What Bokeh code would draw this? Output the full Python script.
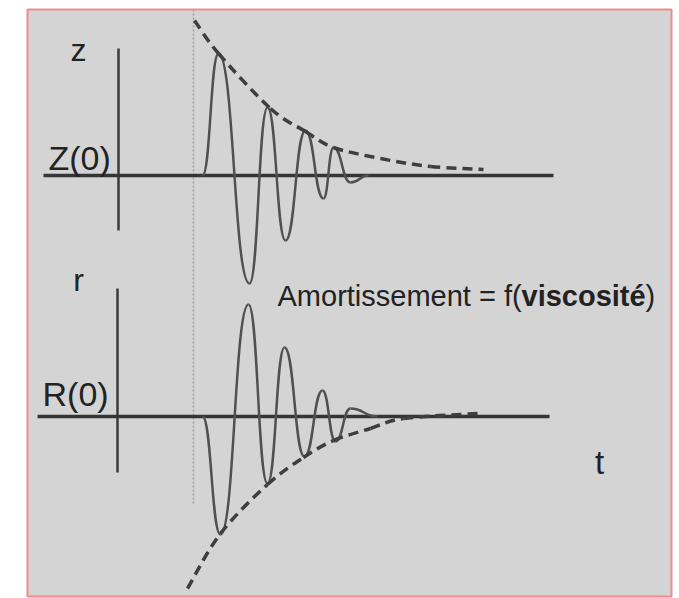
from bokeh.plotting import figure
from bokeh.models import Range1d
from bokeh.core.properties import value
from bokeh.embed import file_html
from bokeh.resources import INLINE

# ---- data (arbitrary units; t = 0 at the dotted line) ----
T_MIN, T_MAX = -16.6, 47.8
Y_MIN, Y_MAX = 0.0, 58.7
Z0_LEVEL = 42.1          # level of Z(0)
R0_LEVEL = 18.0          # level of R(0)

# extrema of the oscillations (relative to Z(0) / R(0))
z_t   = [0.9, 2.5, 5.6, 7.4, 9.2, 11.2, 13.0, 14.0, 15.7, 17.5]
z_val = [0.0, 12.2, -10.8, 6.8, -6.5, 4.5, -2.3, 2.8, -0.7, 0.0]
r_t   = [0.9, 2.7, 5.5, 7.4, 9.1, 11.1, 12.9, 14.2, 15.7, 18.4]
r_val = [0.0, -11.8, 11.2, -6.7, 6.9, -4.0, 2.6, -2.5, 0.8, 0.0]

# damping envelopes
zenv_t   = [0.1, 2.5, 7.7, 11.2, 14.0, 18.7, 23.7, 29.0]
zenv_val = [15.5, 12.2, 6.7, 4.4, 2.8, 1.7, 0.9, 0.6]
renv_t   = [-0.6, 2.7, 7.4, 11.0, 14.0, 17.7, 21.0, 28.5]
renv_val = [-17.2, -11.7, -6.8, -4.1, -2.4, -1.2, -0.2, 0.3]

# axes of the sketch
Z_AXIS_T, Z_AXIS_Y = -7.5, (36.6, 54.8)
R_AXIS_T, R_AXIS_Y = -7.6, (12.4, 30.8)
Z0_SPAN = (-15.0, 36.0)
R0_SPAN = (-15.6, 35.6)
DOT_Y = (9.3, 60.0)

FONT = value("Liberation Sans")
INK = "#222222"

p = figure(width=679, height=598, output_backend="svg", toolbar_location=None,
           x_range=Range1d(T_MIN, T_MAX), y_range=Range1d(Y_MIN, Y_MAX),
           x_axis_location=None, y_axis_location=None,
           min_border_left=27, min_border_right=8, min_border_top=9, min_border_bottom=2)
p.grid.visible = False
p.background_fill_color = "#d4d4d4"
p.border_fill_color = "white"
p.outline_line_color = "#f28c8c"
p.outline_line_width = 2


def tx(px):
    return (px - 193) / 10.0


def ty(py):
    return (596 - py) / 10.0


def osc_bezier(ts, vs, base, k=0.5):
    x0, y0, x1, y1, cx0, cy0, cx1, cy1 = [], [], [], [], [], [], [], []
    for i in range(len(ts) - 1):
        a, b = ts[i], ts[i + 1]
        ya, yb = vs[i] + base, vs[i + 1] + base
        d = b - a
        x0.append(a); y0.append(ya); x1.append(b); y1.append(yb)
        cx0.append(a + k * d); cy0.append(ya)
        cx1.append(b - k * d); cy1.append(yb)
    return dict(x0=x0, y0=y0, x1=x1, y1=y1, cx0=cx0, cy0=cy0, cx1=cx1, cy1=cy1)


def smooth_bezier(ts, vs, base):
    pts = [(t, v + base) for t, v in zip(ts, vs)]
    n = len(pts)
    out = dict(x0=[], y0=[], x1=[], y1=[], cx0=[], cy0=[], cx1=[], cy1=[])
    for i in range(n - 1):
        p0 = pts[max(i - 1, 0)]
        p1 = pts[i]
        p2 = pts[i + 1]
        p3 = pts[min(i + 2, n - 1)]
        out["x0"].append(p1[0]); out["y0"].append(p1[1])
        out["x1"].append(p2[0]); out["y1"].append(p2[1])
        out["cx0"].append(p1[0] + (p2[0] - p0[0]) / 6.0)
        out["cy0"].append(p1[1] + (p2[1] - p0[1]) / 6.0)
        out["cx1"].append(p2[0] - (p3[0] - p1[0]) / 6.0)
        out["cy1"].append(p2[1] - (p3[1] - p1[1]) / 6.0)
    return out


# dotted vertical reference line at t = 0
p.segment(x0=[0], y0=[DOT_Y[0]], x1=[0], y1=[DOT_Y[1]],
          line_color="#9c9c9c", line_width=1.5, line_dash="2 2")

# sketch axes
p.segment(x0=[Z_AXIS_T, R_AXIS_T], y0=[Z_AXIS_Y[0], R_AXIS_Y[0]],
          x1=[Z_AXIS_T, R_AXIS_T], y1=[Z_AXIS_Y[1], R_AXIS_Y[1]],
          line_color="#3a3a3a", line_width=2.5)
p.segment(x0=[Z0_SPAN[0], R0_SPAN[0]], y0=[Z0_LEVEL, R0_LEVEL],
          x1=[Z0_SPAN[1], R0_SPAN[1]], y1=[Z0_LEVEL, R0_LEVEL],
          line_color="#353535", line_width=3.5)

# oscillations
for ts, vs, base in ((z_t, z_val, Z0_LEVEL), (r_t, r_val, R0_LEVEL)):
    p.bezier(line_color="#505050", line_width=2.5, **osc_bezier(ts, vs, base))

# envelopes
for ts, vs, base in ((zenv_t, zenv_val, Z0_LEVEL), (renv_t, renv_val, R0_LEVEL)):
    p.bezier(line_color="#3e3e3e", line_width=3.5, line_dash="10 6",
             **smooth_bezier(ts, vs, base))

# labels (baseline correction: -10 px)
def lab(px, py, s, size, align="left", style="normal"):
    p.text(x=[tx(px)], y=[ty(py - 10)], text=[s], text_font=FONT, text_font_size=f"{size}px",
           text_font_style=style, text_color=INK, text_align=align, text_baseline="alphabetic")


lab(78, 59, "z", 32, "center")
lab(48, 167, "Z(0)", 34)
lab(78, 289, "r", 32, "center")
lab(42, 403, "R(0)", 34)
lab(599, 472, "t", 33, "center")
lab(277, 305, "Amortissement = f(", 29)
lab(521, 305, "viscosité", 29, style="bold")
lab(645, 305, ")", 29)

open("out.html", "w").write(file_html(p, INLINE))
